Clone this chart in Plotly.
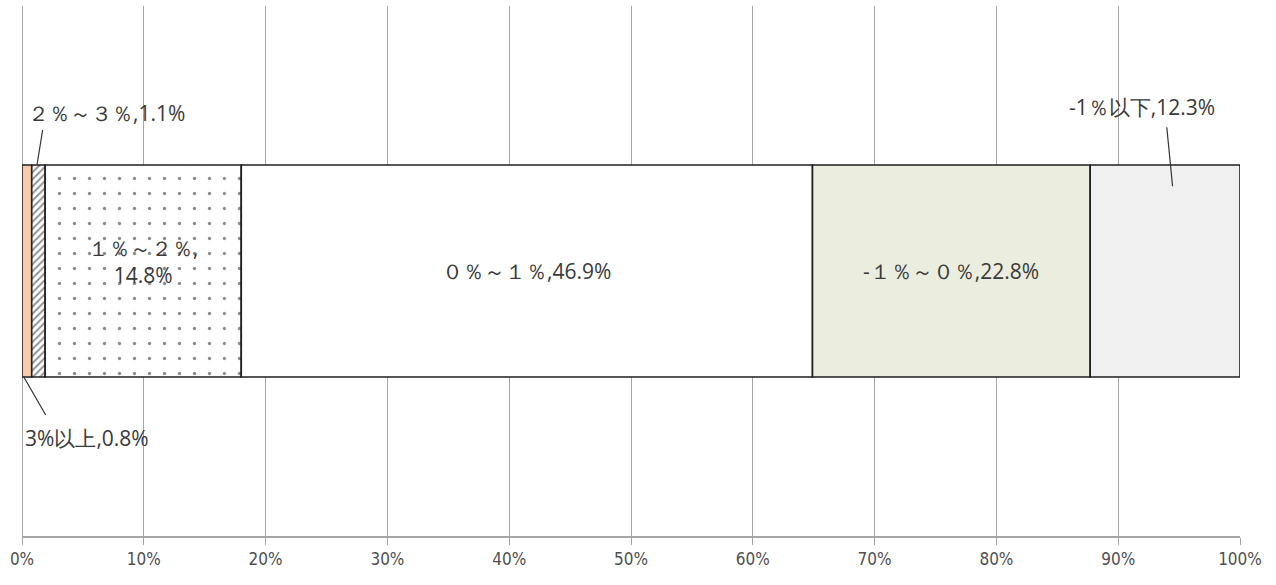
import numpy as np
import plotly.graph_objects as go

# Share of respondents by range (percent)
categories = ["3%以上", "２％～３％", "１％～２％", "", "０％～１％", "-１％～０％", "-1％以下"]
values = [0.8, 1.1, 14.8, 1.3, 46.9, 22.8, 12.3]
value_labels = ["0.8%", "1.1%", "14.8%", "", "46.9%", "22.8%", "12.3%"]
tick_values = list(range(0, 101, 10))
tick_labels = [f"{v}%" for v in tick_values]

fills = ["#F8CBAD", "#FFFFFF", "#FFFFFF", "#FFFFFF", "#FFFFFF", "#EBEEDF", "#F0F0F0"]
patterns = ["", "/", ".", ".", "", "", ""]
outlined = [True, True, False, False, True, True, True]

EDGE = "#1F1F1F"
GRID = "#A6A6A6"
TXT = "#3A3A3A"
JP = "'Noto Sans CJK JP', sans-serif"
NARROW = "'DejaVu Sans Condensed', 'Liberation Sans Narrow', 'Liberation Sans', sans-serif"

bases = np.concatenate([[0], np.cumsum(values)[:-1]])
BAR_W = 0.4

fig = go.Figure()
for name, v, b, fc, pat, ol in zip(categories, values, bases, fills, patterns, outlined):
    pattern = dict(shape=pat)
    if pat == "/":
        pattern.update(fgcolor="#222222", bgcolor="#FFFFFF", size=5, solidity=0.4)
    elif pat == ".":
        pattern.update(fgcolor="#1A1A1A", bgcolor="#FFFFFF", size=15, solidity=0.04)
    fig.add_trace(go.Bar(
        name=name or "その他", orientation="h", y=[0], x=[v], base=[b], width=BAR_W,
        marker=dict(color=fc, pattern=pattern,
                    line=dict(color=EDGE, width=1.6 if ol else 0)),
        showlegend=False, hoverinfo="skip",
    ))

# common outline for the dotted block (1%～2% and the unlabeled remainder)
fig.add_trace(go.Bar(
    orientation="h", y=[0], x=[values[2] + values[3]], base=[bases[2]], width=BAR_W,
    marker=dict(color="rgba(0,0,0,0)", line=dict(color=EDGE, width=1.6)),
    showlegend=False, hoverinfo="skip",
))


def label(i, sep=","):
    return (f"<span style='font-family:{JP}'>{categories[i]}</span>"
            f"<span style='font-family:{NARROW}'>{sep}{value_labels[i]}</span>")


ann = []
# labels inside segments
ann.append(dict(x=bases[4] + values[4] / 2, y=0, text=label(4), showarrow=False))
ann.append(dict(x=bases[5] + values[5] / 2, y=0, text=label(5), showarrow=False))
ann.append(dict(x=bases[2] + (values[2] + values[3]) / 2, y=0.017,
                text=f"<span style='font-family:{JP}'>{categories[2]},</span><br>"
                     f"<span style='font-family:{NARROW}'>{value_labels[2]}</span>",
                showarrow=False))
# labels outside the bar with leader lines
ann.append(dict(x=0, y=0.298, xanchor="left", xshift=4, text=label(1), showarrow=False))
ann.append(dict(x=bases[1] + 0.43, y=BAR_W / 2, ax=6, ay=-37, text=" ",
                showarrow=True, arrowhead=0, arrowwidth=1.2, arrowcolor="#333333",
                font=dict(size=1)))
ann.append(dict(x=0, y=-0.315, xanchor="left", xshift=1, text=label(0), showarrow=False))
ann.append(dict(x=0.15, y=-BAR_W / 2, ax=23, ay=40, text=" ",
                showarrow=True, arrowhead=0, arrowwidth=1.2, arrowcolor="#333333",
                font=dict(size=1)))
ann.append(dict(x=bases[6] + values[6] / 2 - 1.9, y=0.309, text=label(6), showarrow=False))
ann.append(dict(x=bases[6] + 0.55 * values[6], y=0.16, ax=-6, ay=-61, text=" ",
                showarrow=True, arrowhead=0, arrowwidth=1.2, arrowcolor="#333333",
                font=dict(size=1)))

for a in ann:
    a.setdefault("font", dict(size=21, color=TXT))
    a["xref"] = "x"
    a["yref"] = "y"

fig.update_layout(
    width=1276, height=585,
    margin=dict(l=22, r=36, t=6, b=49),
    barmode="overlay",
    plot_bgcolor="#FFFFFF", paper_bgcolor="#FFFFFF",
    annotations=ann,
    xaxis=dict(range=[0, 100], tickvals=tick_values, ticktext=tick_labels,
               showgrid=True, gridcolor=GRID, gridwidth=1,
               zeroline=True, zerolinecolor=GRID, zerolinewidth=1,
               showline=True, linecolor=GRID, linewidth=1.5,
               ticks="outside", ticklen=7, tickcolor=GRID,
               tickfont=dict(family=NARROW, size=17, color="#505050"),
               fixedrange=True),
    yaxis=dict(range=[-0.5, 0.5], visible=False, fixedrange=True),
)

fig.write_html("out.html")
